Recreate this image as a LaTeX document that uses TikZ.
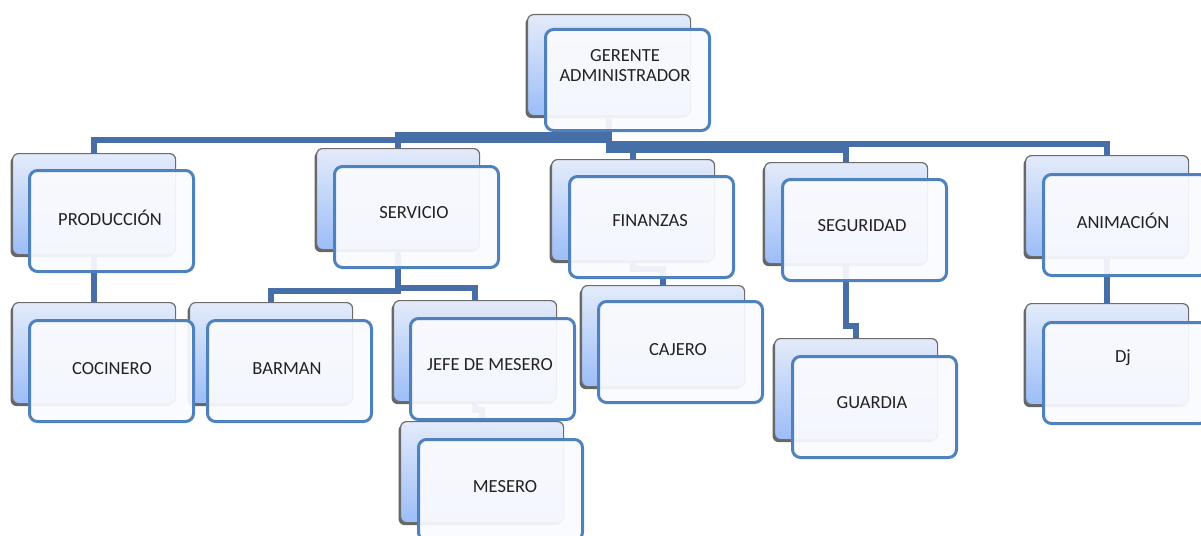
\documentclass[tikz,border=0pt]{standalone}
\usepackage{fontspec}
\setmainfont{Carlito}
\usetikzlibrary{shadows}
\definecolor{bkA}{HTML}{E3EBFA}
\definecolor{bkB}{HTML}{D6E3FA}
\definecolor{bkC}{HTML}{9CBDF8}
\definecolor{frontc}{HTML}{4F81BD}
\definecolor{connc}{HTML}{456FA6}
\definecolor{txtc}{HTML}{222222}
\definecolor{frontfill}{HTML}{FAFBFE}
\tikzset{
  backbox/.style={rectangle, rounded corners=6pt, draw=gray!85!black, line width=1.2pt,
    top color=bkA, middle color=bkB, bottom color=bkC,
    minimum width=163pt, minimum height=101pt, inner sep=0pt, anchor=north west,
    drop shadow={shadow xshift=-2pt, shadow yshift=-2.5pt, fill=black!60, opacity=1}},
  frontbox/.style={rectangle, rounded corners=8pt, draw=frontc, line width=3pt,
    fill=frontfill, fill opacity=0.93, draw opacity=1,
    minimum width=164pt, minimum height=101pt, inner sep=0pt, anchor=north west},
  lbl/.style={font=\fontsize{18.5}{20}\selectfont, text=txtc, align=center, inner sep=0pt},
  conn/.style={draw=connc, line width=5.5pt, line join=miter}
}
\begin{document}
\begin{tikzpicture}[x=1pt,y=-1pt]
\useasboundingbox (0,0) rectangle (1201,535);
% back boxes
\node[backbox] (ger) at (527,14) {};
\node[backbox] (prod) at (12,153) {};
\node[backbox] (serv) at (316,148) {};
\node[backbox] (fin) at (551,159) {};
\node[backbox] (seg) at (764,162) {};
\node[backbox] (anim) at (1025,155) {};
\node[backbox] (coc) at (12,302) {};
\node[backbox] (bar) at (189,302) {};
\node[backbox] (jefe) at (393,300) {};
\node[backbox] (mes) at (400,421) {};
\node[backbox] (caj) at (581,285) {};
\node[backbox] (gua) at (774,338) {};
\node[backbox] (dj) at (1025,303) {};
% connectors
\draw[conn] (ger.south) -- ++(0,24) -| (prod.north);
\draw[conn] (ger.south) -- ++(0,19) -| (serv.north);
\draw[conn] (ger.south) -- ++(0,28) -| (anim.north);
\draw[conn] (ger.south) -- ++(0,32) -| (fin.north);
\draw[conn] (ger.south) -- ++(0,34) -| (seg.north);
\draw[conn] (prod.south) -- (coc.north);
\draw[conn] (serv.south) -- ++(0,41) -| (bar.north);
\draw[conn] (serv.south) -- ++(0,38) -| (jefe.north);
\draw[conn] (jefe.south) -- ++(0,8) -| (mes.north);
\draw[conn] (fin.south) -- ++(0,8) -| (caj.north);
\draw[conn] (seg.south) -- ++(0,62) -| (gua.north);
\draw[conn] (anim.south) -- (dj.north);
% front boxes
\node[frontbox] (gerF) at (544,28) {};
\node[frontbox] (prodF) at (28,169) {};
\node[frontbox] (servF) at (333,165) {};
\node[frontbox] (finF) at (568,175) {};
\node[frontbox] (segF) at (781,178) {};
\node[frontbox] (animF) at (1042,173) {};
\node[frontbox] (cocF) at (28,319) {};
\node[frontbox] (barF) at (206,319) {};
\node[frontbox] (jefeF) at (409,317) {};
\node[frontbox] (mesF) at (417,438) {};
\node[frontbox] (cajF) at (597,300) {};
\node[frontbox] (guaF) at (791,355) {};
\node[frontbox] (djF) at (1042,321) {};
% labels
\node[lbl] (gerT) at (625,66) {GERENTE\\ADMINISTRADOR};
\node[lbl] (prodT) at (110,218) {PRODUCCIÓN};
\node[lbl] (servT) at (414,213) {SERVICIO};
\node[lbl] (finT) at (650,221) {FINANZAS};
\node[lbl] (segT) at (862,226) {SEGURIDAD};
\node[lbl] (animT) at (1123,221) {ANIMACIÓN};
\node[lbl] (cocT) at (112,369) {COCINERO};
\node[lbl] (barT) at (287,369) {BARMAN};
\node[lbl] (jefeT) at (490,365) {JEFE DE MESERO};
\node[lbl] (mesT) at (505,487) {MESERO};
\node[lbl] (cajT) at (678,350) {CAJERO};
\node[lbl] (guaT) at (872,403) {GUARDIA};
\node[lbl] (djT) at (1123,358) {Dj};
\end{tikzpicture}
\end{document}
